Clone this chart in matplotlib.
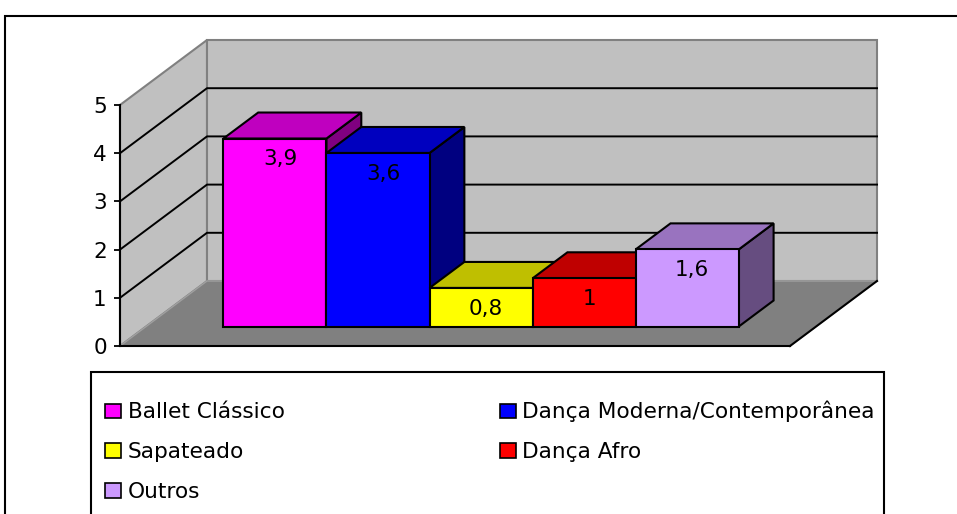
import numpy as np
import matplotlib.pyplot as plt
from matplotlib.patches import Polygon, Rectangle, Patch

# data
series = ["Ballet Clássico", "Dança Moderna/Contemporânea", "Sapateado", "Dança Afro", "Outros"]
values = [3.9, 3.6, 0.8, 1.0, 1.6]
value_labels = ["3,9", "3,6", "0,8", "1", "1,6"]
colors = ["#FF00FF", "#0000FF", "#FFFF00", "#FF0000", "#CC99FF"]
yticks = [0, 1, 2, 3, 4, 5]

plt.rcParams['font.family'] = ['DejaVu Sans']

W, H = 957, 514
fig = plt.figure(figsize=(W / 100, H / 100), dpi=100)

# front plane of the 3d box (pixels)
x0, x1 = 120, 790
y0, y5 = 346, 105
ax = fig.add_axes([x0 / W, 1 - y0 / H, (x1 - x0) / W, (y0 - y5) / H])
ax.set_xlim(0, 5)
ax.set_ylim(0, 5)
ax.patch.set_visible(False)

# depth vector in data units
DX = 87 / (x1 - x0) * 5
DV = 65 / (y0 - y5) * 5


def proj(x, v, d):
    return (x + d * DX, v + d * DV)


def face(pts, fc, ec, z, lw=1.5):
    ax.add_patch(Polygon([proj(*p) for p in pts], closed=True, facecolor=fc,
                         edgecolor=ec, lw=lw, zorder=z, clip_on=False,
                         joinstyle='miter'))


# walls and floor
face([(0, 0, 0), (0, 5, 0), (0, 5, 1), (0, 0, 1)], "#C0C0C0", "#808080", 0.5)
face([(0, 0, 1), (5, 0, 1), (5, 5, 1), (0, 5, 1)], "#C0C0C0", "#808080", 0.5)
face([(0, 0, 0), (5, 0, 0), (5, 0, 1), (0, 0, 1)], "#808080", "#A0A0A0", 0.6, lw=1.0)
ax.plot(*zip(proj(5, 0, 0), proj(5, 0, 1)), color="black", lw=1.5, zorder=0.7,
        clip_on=False)

# gridlines on side and back wall
for v in yticks[1:-1]:
    pts = [proj(0, v, 0), proj(0, v, 1), proj(5, v, 1)]
    ax.plot(*zip(*pts), color="black", lw=1.4, zorder=0.8, clip_on=False)

# bars (Excel style: gap width 150%)
n = len(values)
w = 5 / (n + 1.5)
start = (5 - n * w) / 2
d0, d1 = 0.3, 0.7
for i, (h, c, lbl) in enumerate(zip(values, colors, value_labels)):
    rgb = np.array(plt.matplotlib.colors.to_rgb(c))
    xl = start + i * w
    xr = xl + w
    z = 3 + i
    face([(xr, 0, d0), (xr, 0, d1), (xr, h, d1), (xr, h, d0)], rgb * 0.5, "black", z)
    face([(xl, h, d0), (xr, h, d0), (xr, h, d1), (xl, h, d1)], rgb * 0.75, "black", z)
    face([(xl, 0, d0), (xr, 0, d0), (xr, h, d0), (xl, h, d0)], rgb, "black", z)
    ax.annotate(lbl, xy=proj(xl + w / 2, h, d0), xytext=(3.6, -15),
                textcoords='offset points', ha='center', va='center',
                fontsize=15.5, zorder=20, annotation_clip=False)

# axes
for s in ["top", "right"]:
    ax.spines[s].set_visible(False)
for s in ["left", "bottom"]:
    ax.spines[s].set_linewidth(1.5)
    ax.spines[s].set_zorder(2)
ax.set_xticks([])
ax.set_yticks(yticks)
ax.set_yticklabels([str(t) for t in yticks])
ax.tick_params(axis='y', direction='out', length=4.5, width=1.3, pad=5, labelsize=15.5)

# legend
order = [0, 2, 4, 1, 3]
handles = [Patch(facecolor=colors[k], edgecolor="black", lw=1.2) for k in order]
labels = [series[k] for k in order]
fig.legend(handles, labels, loc='upper left', bbox_to_anchor=(105 / W, 1 - 401 / H),
           ncol=2, frameon=False, fontsize=15.6, handlelength=0.74, handleheight=0.67,
           handletextpad=0.3, labelspacing=0.92, columnspacing=9.93,
           borderpad=0, borderaxespad=0)
fig.add_artist(Rectangle((91 / W, -0.05), (884 - 91) / W, 1 - 372 / H + 0.05,
                         transform=fig.transFigure, fill=False, edgecolor="black", lw=1.5))

# chart area border
fig.add_artist(Rectangle((5 / W, -0.1), 1.2, 1 - 16 / H + 0.1,
                         transform=fig.transFigure, fill=False, edgecolor="black", lw=1.5))

fig.savefig("out.png", dpi=100)
